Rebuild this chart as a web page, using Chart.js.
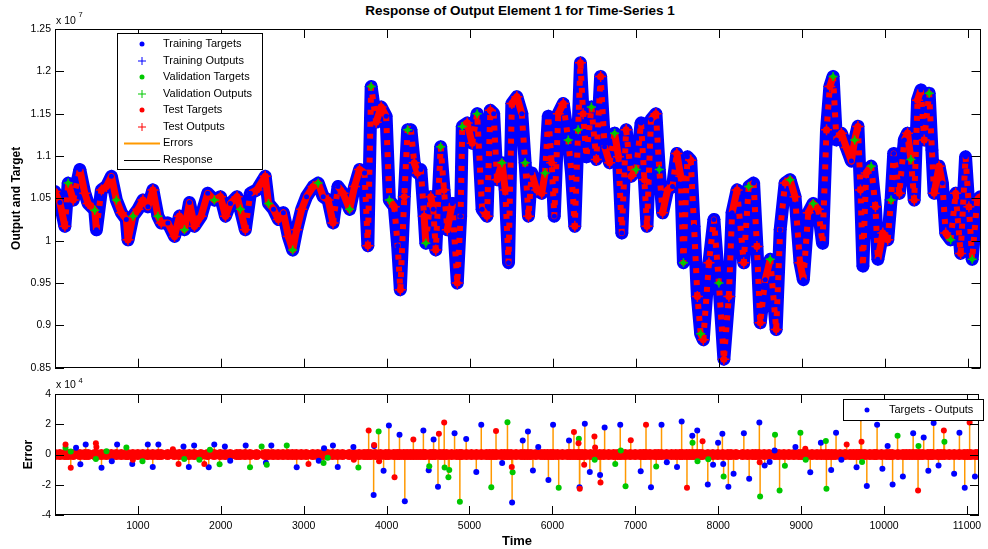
<!DOCTYPE html>
<html><head><meta charset="utf-8">
<script src="https://cdn.jsdelivr.net/npm/chart.js@4.4.1/dist/chart.umd.min.js"></script>
<style>
html,body{margin:0;padding:0;background:#fff;width:988px;height:549px;overflow:hidden;font-family:"Liberation Sans",Arial,sans-serif}
#top{position:absolute;left:0;top:0}
#bot{position:absolute;left:0;top:378px}
#title{position:absolute;left:0;width:1040px;top:3px;text-align:center;font-weight:bold;font-size:13.5px;color:#000}
</style></head><body>
<div id="title">Response of Output Element 1 for Time-Series 1</div>
<canvas id="top" width="988" height="378"></canvas>
<canvas id="bot" width="988" height="171"></canvas>
<script>
// ---------- data (values in units of 1e7 for the response, 1e4 for the errors) ----------
const times = [0,60,120,160,220,300,360,400,480,500,
560,620,680,740,800,860,880,940,1000,1060,
1120,1180,1240,1280,1360,1440,1500,1560,1620,1680,
1760,1840,1920,1994,2054,2113,2193,2233,2293,2353,
2432,2532,2572,2632,2691,2751,2811,2863,2911,2971,
3030,3110,3170,3230,3290,3349,3409,3469,3549,3608,
3668,3728,3768,3808,3868,3928,3988,4027,4087,4127,
4159,4207,4247,4287,4326,4366,4406,4446,4466,4526,
4556,4586,4645,4685,4725,4785,4845,4885,4905,4964,
5024,5084,5144,5203,5243,5283,5323,5383,5422,5462,
5502,5562,5622,5662,5702,5741,5801,5862,5902,5941,
5981,6013,6061,6121,6181,6220,6260,6300,6328,6360,
6400,6460,6519,6571,6619,6679,6739,6786,6826,6878,
6938,6998,7058,7098,7129,7177,7237,7277,7317,7377,
7437,7488,7536,7568,7616,7656,7696,7736,7776,7807,
7875,7935,7995,8055,8115,8154,8214,8294,8354,8413,
8453,8493,8553,8613,8685,8733,8792,8852,8912,8972,
9012,9071,9131,9191,9243,9291,9331,9370,9410,9470,
9530,9590,9630,9669,9700,9729,9769,9829,9880,9909,
9969,10028,10068,10100,10168,10228,10267,10307,10347,10387,
10427,10467,10527,10560,10586,10646,10686,10726,10786,10846,
10906,10965,11005,11045,11105,11145];

const targets = [1.058,1.045,1.017,1.068,1.048,1.084,1.056,1.044,1.036,1.013,
1.060,1.064,1.076,1.048,1.033,1.025,1.001,1.029,1.037,1.048,
1.040,1.060,1.029,1.021,1.021,1.005,1.029,1.013,1.045,1.017,
1.029,1.056,1.048,1.052,1.029,1.044,1.052,1.037,1.013,1.056,
1.060,1.076,1.044,1.037,1.025,1.033,1.005,0.989,1.013,1.037,
1.052,1.064,1.068,1.052,1.048,1.021,1.064,1.056,1.037,1.064,
1.084,1.080,0.994,1.182,1.140,1.158,1.147,1.048,1.040,0.994,
0.942,1.052,1.131,1.131,1.092,1.080,1.084,1.029,0.997,1.052,
1.037,0.989,1.111,1.060,1.013,1.044,0.950,1.029,1.135,1.139,
1.115,1.150,1.037,1.029,1.154,1.150,1.072,1.092,1.060,0.974,
1.162,1.170,1.150,1.092,1.029,1.080,1.060,1.056,1.080,1.147,
1.092,1.029,1.150,1.162,1.119,1.080,1.017,1.131,1.210,1.150,
1.099,1.158,1.096,1.194,1.111,1.092,1.127,1.099,1.009,1.131,
1.076,1.084,1.139,1.072,1.017,1.143,1.150,1.084,1.033,1.060,
1.064,1.103,1.076,0.974,1.099,1.095,1.017,0.934,0.890,0.883,
0.974,1.025,0.950,0.860,0.934,1.033,1.060,0.974,1.064,1.068,
0.993,0.903,0.954,0.978,0.895,1.013,1.068,1.072,1.052,0.974,
0.954,1.033,1.044,1.037,0.997,1.131,1.182,1.194,1.119,1.127,
1.110,1.094,1.119,1.135,1.060,0.970,1.080,1.088,1.040,0.978,
1.009,1.001,1.048,1.103,1.056,1.119,1.127,1.096,1.048,1.166,
1.178,1.119,1.174,1.107,1.056,1.088,1.068,1.009,1.001,1.056,
0.985,1.099,1.040,0.978,1.048,1.052];

// data division of each time step: B = training, G = validation, R = test
const division = "RBRGRBRRGB" + "RRBGRBRGRR" + "BRGRBRRGBR" + "RBGRRBRGRB" + "RRGBRBRGRR" +
                 "BRGBRRBRGR" + "RBRGRRBGRB" + "RRGBRRBRGR" + "BRGRRBRBGR" + "RGBRRBRGRB" +
                 "RRBGRBRRGB" + "RBRRGBRGRR" + "BGRRBRGRBR" + "RGBRRBRGRR" + "BRRGBRBRGR" +
                 "RBGRRBRRGB" + "RRBGRBRGRR" + "BRGRBRRGBR" + "RBGRRBRGRB" + "RRGBRBRGRR" +
                 "BRGBRRBRGR" + "RBRGRRBGRB";

// errors (targets - outputs), [time, error]
const errTrain = [[255,0.44],[307,-0.64],[371,0.66],[562,-0.88],[686,-0.44],[750,0.66],[933,-0.62],[1120,0.66],[1180,-0.82],[1248,0.66],
[1551,0.53],[1615,-0.82],[1679,0.6],[1855,-0.84],[1922,0.66],[2050,0.53],[2114,-0.42],[2301,0.6],[2545,-0.55],[2610,0.6],
[2916,-0.84],[3182,-0.42],[3246,0.42],[3353,0.6],[3411,-0.82],[3600,0.49],[3844,-2.67],[3850,0.57],[3964,-1.08],[4028,1.92],
[4156,1.3],[4220,-3.09],[4444,1.59],[4508,-1.04],[4567,0.99],[4620,-2.14],[4820,1.41],[4960,1.03],[5082,-1.15],[5142,1.96],
[5394,-0.57],[5514,-3.18],[5642,0.93],[5705,1.52],[5765,-1.06],[5829,0.49],[5952,-1.68],[6008,1.96],[6200,0.93],[6327,-2.16],
[6391,2.03],[6451,-1.15],[6575,-1.35],[6630,1.79],[6818,1.96],[7065,-1.1],[7189,-2.16],[7316,1.96],[7380,-0.51],[7503,-0.82],
[7559,2.19],[7687,1.24],[7747,1.59],[7874,-1.98],[7938,-0.68],[7998,0.77],[8050,1.37],[8060,-0.62],[8122,-2.14],[8185,-1.28],
[8309,1.41],[8373,-1.61],[8496,2.12],[8560,-0.73],[8620,-0.49],[8680,0.26],[8931,0.49],[9110,-1.17],[9238,0.77],[9362,-1.02],
[9421,1.43],[9485,-0.35],[9668,-0.84],[9720,2.4],[9792,-2.08],[9916,1.96],[9980,-0.95],[10043,0.57],[10103,-1.98],[10227,-1.45],
[10351,1.41],[10478,1.13],[10534,-1.08],[10598,2.08],[10657,-0.73],[10845,-1.28],[10909,1.43],[10973,-2.2],[11096,-1.45]];
const errVal = [[128,0.45],[191,0.2],[494,-0.29],[622,0.22],[862,0.46],[1056,-0.44],[1560,-0.29],[1742,-0.35],[1870,0.31],[1986,-0.64],
[2353,-0.84],[2493,0.53],[2555,-0.68],[2796,0.6],[3240,-0.57],[3290,-0.22],[3660,-0.86],[3904,1.52],[4515,-0.77],[4700,-0.86],
[4746,-1.5],[4756,-1.02],[4884,-3.13],[5263,-2.16],[5458,2.14],[5520,-1.17],[6076,-2.2],[6319,1.04],[6510,-0.35],[6758,-0.62],
[6825,0.26],[6882,-2.1],[7252,-0.8],[7690,0.77],[7750,-0.44],[7880,-0.31],[8065,-1.45],[8505,-2.78],[8685,1.3],[8740,-2.38],
[8804,-0.75],[8991,1.43],[9055,-0.35],[9298,0.9],[9305,-2.27],[9735,-0.5],[10163,1.24],[10415,0.57],[10728,0.84]];
const errTest = [[128,0.66],[191,-0.88],[494,0.75],[500,0.5],[940,-0.35],[1423,0.35],[1491,-0.62],[1802,-0.62],[3058,-0.62],[3605,-0.35],
[3784,1.59],[3850,0.62],[3910,-0.44],[4096,-1.5],[4323,0.99],[4631,1.37],[4695,2.12],[5320,1.55],[5510,-0.82],[6260,1.48],
[6315,0.75],[6330,-2.27],[6383,-0.68],[6507,1.19],[6515,0.46],[6580,-1.85],[6945,0.95],[7129,1.96],[7623,-2.2],[7811,0.88],
[8500,-0.51],[9050,0.38],[9549,0.66],[9728,0.84],[10410,-2.38],[10721,1.59],[11032,2.12]];

const xTicks = [1000,2000,3000,4000,5000,6000,7000,8000,9000,10000,11000];
const yTicksTop = [0.85,0.9,0.95,1,1.05,1.1,1.15,1.2,1.25];
const yTicksErr = [-4,-2,0,2,4];
const legendTop = ["Training Targets","Training Outputs","Validation Targets","Validation Outputs","Test Targets","Test Outputs","Errors","Response"];
const legendErr = ["Targets - Outputs"];

// ---------- styling ----------
const FONT = '"Liberation Sans", Arial, sans-serif';
const BLUE = '#0000ff', GREEN = '#00c800', RED = '#ff0000', ORANGE = '#ff9900';

const allPts = times.map((t, i) => ({x: t, y: targets[i]}));
function pick(c) { const out = []; times.forEach((t, i) => { if (division[i] === c) out.push({x: t, y: targets[i]}); }); return out; }
const toPts = arr => arr.map(p => ({x: p[0], y: p[1]}));
const stems = [];
[errTrain, errVal, errTest].forEach(a => a.forEach(p => { stems.push({x: p[0], y: 0}, {x: p[0], y: p[1]}, {x: p[0], y: null}); }));
const baseline = times.map(t => ({x: t, y: 0}));

function drawPlus(ctx, x, y, r, color, lw) {
  ctx.strokeStyle = color; ctx.lineWidth = lw || 1;
  ctx.beginPath(); ctx.moveTo(x - r, y); ctx.lineTo(x + r, y); ctx.moveTo(x, y - r); ctx.lineTo(x, y + r); ctx.stroke();
}
function drawDot(ctx, x, y, r, color) { ctx.fillStyle = color; ctx.beginPath(); ctx.arc(x, y, r, 0, Math.PI * 2); ctx.fill(); }

function framePlugin(kind) {
  return {
    id: 'frame_' + kind,
    afterDraw(chart) {
      const ctx = chart.ctx, a = chart.chartArea, xs = chart.scales.x, ys = chart.scales.y;
      ctx.save();
      ctx.strokeStyle = '#000'; ctx.lineWidth = 1;
      ctx.strokeRect(Math.round(a.left) + 0.5, Math.round(a.top) + 0.5, Math.round(a.right - a.left) - 1, Math.round(a.bottom - a.top) - 1);
      const tl = 9;
      ctx.beginPath();
      xTicks.forEach(v => { const px = Math.round(xs.getPixelForValue(v)) + 0.5;
        ctx.moveTo(px, a.bottom); ctx.lineTo(px, a.bottom - tl); ctx.moveTo(px, a.top); ctx.lineTo(px, a.top + tl); });
      (kind === 'top' ? yTicksTop : yTicksErr).forEach(v => { const py = Math.round(ys.getPixelForValue(v)) + 0.5;
        ctx.moveTo(a.left, py); ctx.lineTo(a.left + tl, py); ctx.moveTo(a.right, py); ctx.lineTo(a.right - tl, py); });
      ctx.stroke();
      ctx.fillStyle = '#000'; ctx.textBaseline = 'alphabetic'; ctx.textAlign = 'left';
      if (kind === 'top') {
        ctx.font = '10.5px ' + FONT; ctx.fillText('x 10', 56, 24);
        ctx.font = '7.5px ' + FONT; ctx.fillText('7', 78.5, 17);
        // legend
        const x0 = 117.5, y0 = 33.5, w = 145, h = 136;
        ctx.fillStyle = '#fff'; ctx.fillRect(x0, y0, w, h);
        ctx.strokeStyle = '#000'; ctx.lineWidth = 1; ctx.strokeRect(x0, y0, w, h);
        const rows = [44, 61, 77, 94, 110, 127, 143, 160];
        const kinds = ['dot', 'plus', 'dot', 'plus', 'dot', 'plus', 'line', 'line'];
        const cols = [BLUE, BLUE, GREEN, GREEN, RED, RED, ORANGE, '#000'];
        rows.forEach((ry, i) => {
          if (kinds[i] === 'dot') drawDot(ctx, 142, ry, 2.5, cols[i]);
          else if (kinds[i] === 'plus') drawPlus(ctx, 142, ry, 4, cols[i], 1);
          else { ctx.strokeStyle = cols[i]; ctx.lineWidth = i === 6 ? 2 : 1; ctx.beginPath(); ctx.moveTo(124, ry + 0.5); ctx.lineTo(160, ry + 0.5); ctx.stroke(); }
          ctx.fillStyle = '#000'; ctx.font = '11px ' + FONT; ctx.textBaseline = 'middle';
          ctx.fillText(legendTop[i], 163, ry);
        });
      } else {
        ctx.font = '10.5px ' + FONT; ctx.fillText('x 10', 56, 10);
        ctx.font = '7.5px ' + FONT; ctx.fillText('4', 78.5, 5);
        const x0 = 843.5, y0 = 21.5, w = 140, h = 21;
        ctx.fillStyle = '#fff'; ctx.fillRect(x0, y0, w, h);
        ctx.strokeStyle = '#000'; ctx.lineWidth = 1; ctx.strokeRect(x0, y0, w, h);
        drawDot(ctx, 867, 32, 2.5, BLUE);
        ctx.fillStyle = '#000'; ctx.font = '11px ' + FONT; ctx.textBaseline = 'middle';
        ctx.fillText(legendErr[0], 889, 32);
      }
      ctx.restore();
    }
  };
}

const commonX = (showLabels, h) => ({
  type: 'linear', min: 1, max: 11145,
  afterBuildTicks: s => { s.ticks = xTicks.map(v => ({value: v})); },
  ticks: {display: showLabels, color: '#000', font: {size: 10.5, family: FONT}, padding: 5, maxRotation: 0, autoSkip: false, callback: v => String(v)},
  grid: {display: false, drawTicks: false}, border: {display: false},
  afterFit: s => { s.height = h; }
});

// steep stretches are dominated by the (more numerous) training markers, with test markers sprinkled over them
const isSteep = c => Math.abs(c.p1.y - c.p0.y) > 28;

new Chart(document.getElementById('top'), {
  type: 'scatter',
  data: {datasets: [
    {label: 'Response', data: allPts, showLine: true, borderColor: '#000', borderWidth: 1, pointRadius: 0, order: 10},
    {label: 'Training Outputs', data: allPts, showLine: true, borderColor: BLUE, borderWidth: 13, borderJoinStyle: 'round', borderCapStyle: 'round',
      pointStyle: 'cross', pointRadius: 6.5, pointBorderColor: BLUE, pointBorderWidth: 1, order: 9},
    {label: 'Test Outputs', data: allPts, showLine: true, borderColor: RED, borderWidth: 7, borderJoinStyle: 'round',
      segment: {borderDash: c => (isSteep(c) ? [5, 7] : undefined), borderWidth: c => (isSteep(c) ? 6 : 7)}, pointRadius: 0, order: 8},
    {label: 'Test Targets', data: pick('R'), pointStyle: 'circle', pointRadius: 3.5, backgroundColor: RED, borderColor: RED, borderWidth: 0, order: 7},
    {label: 'Test Output markers', data: pick('R'), pointStyle: 'cross', pointRadius: 5.5, borderColor: RED, pointBorderWidth: 1.5, order: 6},
    {label: 'Training Targets', data: pick('B'), pointStyle: 'circle', pointRadius: 2.5, backgroundColor: BLUE, borderColor: BLUE, borderWidth: 0, order: 5},
    {label: 'Validation Targets', data: pick('G'), pointStyle: 'circle', pointRadius: 2.5, backgroundColor: GREEN, borderColor: GREEN, borderWidth: 0, order: 4},
    {label: 'Validation Outputs', data: pick('G'), pointStyle: 'cross', pointRadius: 4.5, borderColor: GREEN, pointBorderWidth: 1.5, order: 3}
  ]},
  options: {
    responsive: false, animation: false, devicePixelRatio: 1, events: [],
    layout: {padding: {left: 0, top: 29, right: 1, bottom: 0}},
    plugins: {legend: {display: false}, tooltip: {enabled: false}},
    scales: {
      x: commonX(false, 10),
      y: {type: 'linear', min: 0.85, max: 1.25,
        afterBuildTicks: s => { s.ticks = yTicksTop.map(v => ({value: v})); },
        ticks: {color: '#000', font: {size: 10.5, family: FONT}, padding: 4, callback: v => String(+v.toFixed(2))},
        grid: {display: false, drawTicks: false}, border: {display: false},
        title: {display: true, text: 'Output and Target', color: '#000', font: {size: 12, weight: 'bold', family: FONT}, padding: {top: 9, bottom: 0}},
        afterFit: s => { s.width = 55; }}
    }
  },
  plugins: [framePlugin('top')]
});

new Chart(document.getElementById('bot'), {
  type: 'scatter',
  data: {datasets: [
    {label: 'Errors', data: stems, showLine: true, spanGaps: false, borderColor: ORANGE, borderWidth: 1.5, pointRadius: 0, order: 10},
    {label: 'Near zero', data: baseline, showLine: true, borderColor: RED, borderWidth: 5, pointRadius: 3, backgroundColor: RED, order: 9},
    {label: 'Training', data: toPts(errTrain), pointStyle: 'circle', pointRadius: 3, backgroundColor: BLUE, borderWidth: 0, order: 3},
    {label: 'Validation', data: toPts(errVal), pointStyle: 'circle', pointRadius: 3, backgroundColor: GREEN, borderWidth: 0, order: 2},
    {label: 'Test', data: toPts(errTest), pointStyle: 'circle', pointRadius: 3, backgroundColor: RED, borderWidth: 0, order: 1}
  ]},
  options: {
    responsive: false, animation: false, devicePixelRatio: 1, events: [],
    layout: {padding: {left: 0, top: 16, right: 1, bottom: 0}},
    plugins: {legend: {display: false}, tooltip: {enabled: false}},
    scales: {
      x: Object.assign(commonX(true, 34), {title: {display: true, text: 'Time', color: '#000', font: {size: 13, weight: 'bold', family: FONT}, padding: {top: 0, bottom: 0}}}),
      y: {type: 'linear', min: -4, max: 4,
        afterBuildTicks: s => { s.ticks = yTicksErr.map(v => ({value: v})); },
        ticks: {color: '#000', font: {size: 10.5, family: FONT}, padding: 4, callback: v => String(v)},
        grid: {display: false, drawTicks: false}, border: {display: false},
        title: {display: true, text: 'Error', color: '#000', font: {size: 12, weight: 'bold', family: FONT}, padding: {top: 21, bottom: 0}},
        afterFit: s => { s.width = 55; }}
    }
  },
  plugins: [framePlugin('bot')]
});
</script>
</body></html>
